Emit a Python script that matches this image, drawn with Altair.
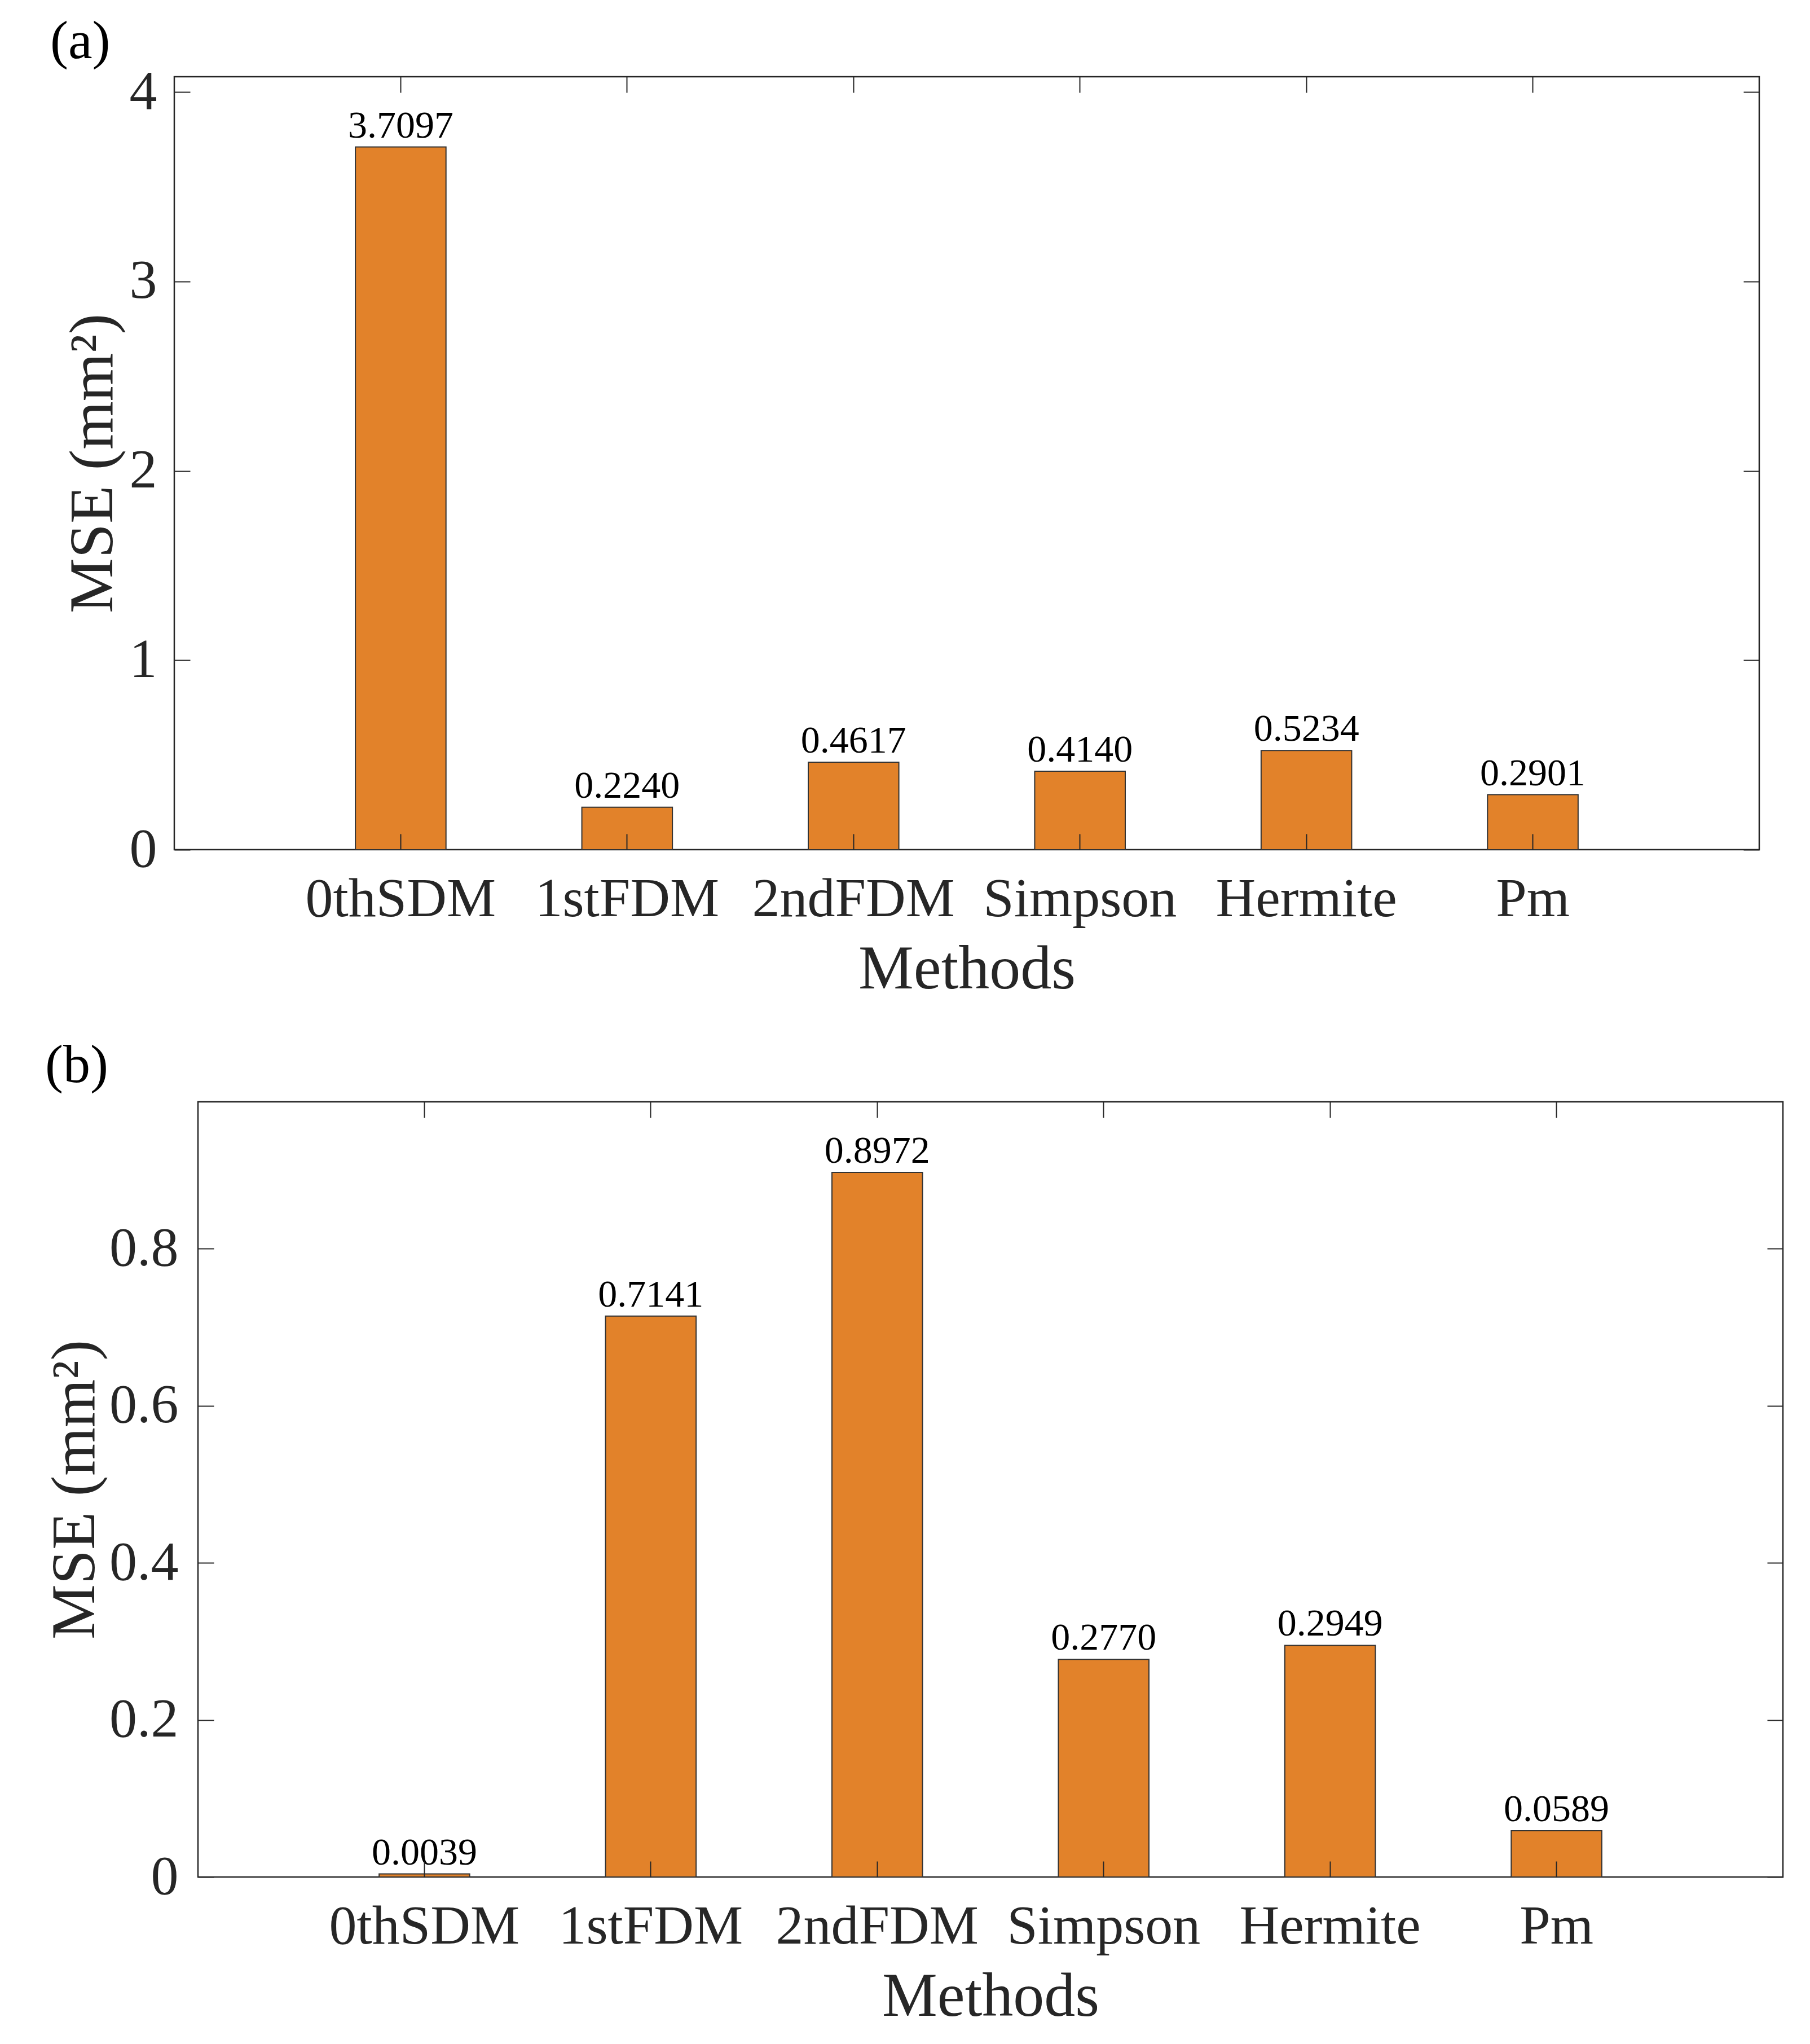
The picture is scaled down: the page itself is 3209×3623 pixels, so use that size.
import pandas as pd
import altair as alt

methods = ["0thSDM", "1stFDM", "2ndFDM", "Simpson", "Hermite", "Pm"]
mse_a = [3.7097, 0.2240, 0.4617, 0.4140, 0.5234, 0.2901]
mse_b = [0.0039, 0.7141, 0.8972, 0.2770, 0.2949, 0.0589]
yticks_a = [0, 1, 2, 3, 4]
yticks_b = [0, 0.2, 0.4, 0.6, 0.8]

FONT = "Liberation Serif"
INK = "#262626"
W = 2810


def panel(values, yticks, tag, h, title_x, label_pad, tag_dx, tag_offset):
    df = pd.DataFrame({"method": methods, "mse": values})
    xs = alt.Scale(domain=methods, paddingInner=0.6, paddingOuter=0.8)
    ys = alt.Scale(domain=[0, 1.1 * max(values)], nice=False, zero=True)
    base = alt.Chart(df)

    # bars + the labelled axes (no ticks)
    bars = base.mark_bar(color="#E2822A", stroke="#333333", strokeWidth=2).encode(
        x=alt.X("method:N", sort=methods, scale=xs,
                axis=alt.Axis(orient="bottom", ticks=False, tickSize=0, domain=False,
                              labelAngle=0, labelFont=FONT, labelFontSize=98,
                              labelColor=INK, labelPadding=117, labelBaseline="alphabetic",
                              labelLimit=0,
                              title="Methods", titleFont=FONT, titleFontSize=110,
                              titleFontWeight="normal", titleColor=INK,
                              titleBaseline="alphabetic", titleY=245)),
        y=alt.Y("mse:Q", scale=ys,
                axis=alt.Axis(orient="left", values=yticks, format="~g", ticks=False,
                              tickSize=0, domain=False, grid=False, labelFont=FONT,
                              labelFontSize=98, labelColor=INK, labelPadding=label_pad,
                              labelBaseline="middle", title="MSE (mm²)", titleFont=FONT,
                              titleFontSize=110, titleFontWeight="normal", titleColor=INK,
                              titleBaseline="alphabetic", titleX=title_x)),
    )

    # value labels; its axes give inward ticks on bottom and left edges
    labels = base.mark_text(font=FONT, fontSize=68, baseline="alphabetic", dy=-17,
                            color="black").encode(
        x=alt.X("method:N", sort=methods, scale=xs,
                axis=alt.Axis(orient="top", offset=-h, labels=False, domain=False,
                              title=None, tickSize=28, tickWidth=2, tickColor=INK,
                              bandPosition=0.5, zindex=1)),
        y=alt.Y("mse:Q", scale=ys,
                axis=alt.Axis(orient="right", offset=-W, values=yticks, labels=False,
                              domain=False, grid=False, title=None, tickSize=28,
                              tickWidth=2, tickColor=INK, zindex=1)),
        text=alt.Text("mse:Q", format=".4f"),
    )

    # invisible copy for the inward ticks on top and right edges
    ghost = base.mark_bar(opacity=0).encode(
        x=alt.X("method:N", sort=methods, scale=xs,
                axis=alt.Axis(orient="bottom", offset=-h, labels=False, domain=False,
                              title=None, tickSize=28, tickWidth=2, tickColor=INK,
                              bandPosition=0.5, zindex=1)),
        y=alt.Y("mse:Q", scale=ys,
                axis=alt.Axis(orient="left", offset=-W, values=yticks, labels=False,
                              domain=False, grid=False, title=None, tickSize=28,
                              tickWidth=2, tickColor=INK, zindex=1)),
    )

    return alt.layer(bars, labels, ghost).resolve_axis(
        x="independent", y="independent"
    ).properties(
        width=W, height=h,
        title=alt.TitleParams(tag, anchor="start", frame="group", dx=tag_dx, dy=92,
                              offset=tag_offset, baseline="alphabetic", font=FONT,
                              fontSize=96, fontWeight="normal", color="black"),
    )


def spacer(w):
    return alt.Chart(pd.DataFrame({"s": [0]})).mark_point(opacity=0).encode(
        x=alt.value(0), y=alt.value(0)
    ).properties(width=w, height=10, view=alt.ViewBackground(strokeOpacity=0))


chart_a = panel(mse_a, yticks_a, "(a)", 1370, -111, 31, -220, 7)
chart_b = panel(mse_b, yticks_b, "(b)", 1374, -185, 35, -271, 30)

chart = alt.vconcat(
    alt.hconcat(spacer(76), chart_a, spacing=0),
    alt.hconcat(spacer(65), chart_b, spacing=0),
    spacing=64,
).properties(
    padding={"left": 0, "top": 16, "right": 5, "bottom": 5}
).configure_view(stroke=INK, strokeWidth=2.5)

chart.save("out.html", embed_options={"renderer": "svg", "actions": False})
